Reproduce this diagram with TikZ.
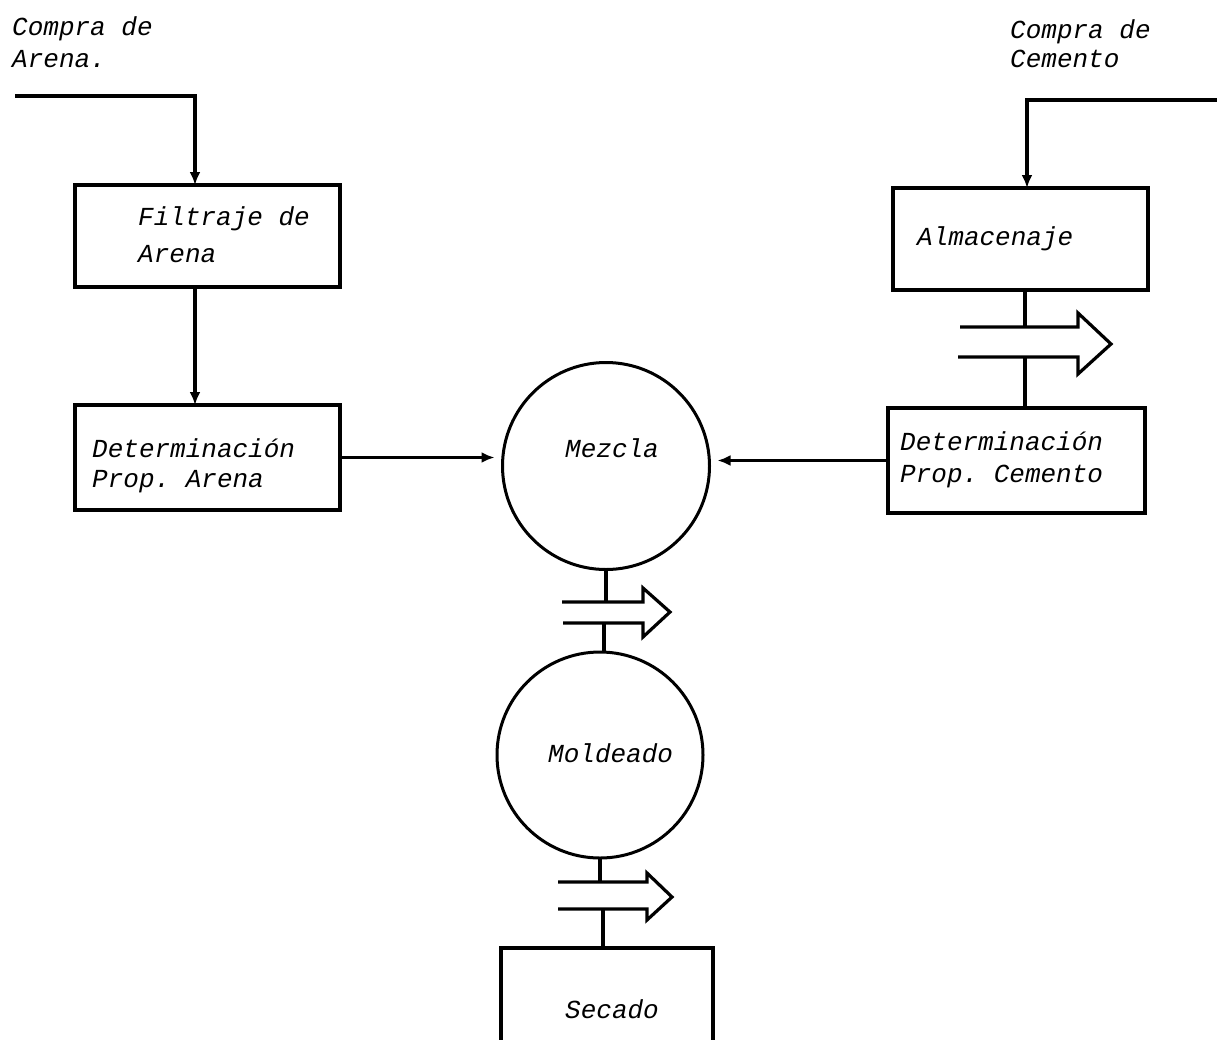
\documentclass[tikz,border=0pt]{standalone}
\usepackage{fontspec}
\setmonofont{Liberation Mono}
\usetikzlibrary{arrows.meta}
\begin{document}
\begin{tikzpicture}[x=1pt,y=-1pt,
  ln/.style={line width=3.2pt},
  box/.style={draw,line width=3.2pt,anchor=north west,inner sep=0pt,outer sep=0pt},
  circ/.style={draw,circle,line width=3pt,inner sep=0pt,outer sep=0pt},
  txt/.style={font=\ttfamily\itshape\fontsize{26}{30}\selectfont,anchor=base west,inner sep=0pt},
  tip/.style={-{Latex[length=13pt,width=11pt]}},
  dbl/.style={line width=3.2pt,line join=miter}]
\useasboundingbox (0,0) rectangle (1217,1039);
\clip (0,0) rectangle (1217,1039);
% texts
\node[txt] (cA1) at (12,35) {Compra de};
\node[txt] (cA2) at (12,67) {Arena.};
\node[txt] (cC1) at (1010,38) {Compra de};
\node[txt] (cC2) at (1010,67) {Cemento};
% boxes
\node[box,minimum width=265pt,minimum height=102pt] (filt) at (75,185) {};
\node[box,minimum width=265pt,minimum height=105pt] (detA) at (75,405) {};
\node[box,minimum width=255pt,minimum height=102pt] (alm) at (893,188) {};
\node[box,minimum width=257pt,minimum height=105pt] (detC) at (888,408) {};
\node[box,minimum width=212pt,minimum height=130pt] (sec) at (501,948) {};
% circles
\node[circ,minimum size=207pt] (mez) at (606,466) {};
\node[circ,minimum size=206pt] (mol) at (600,755) {};
% box texts
\node[txt] (f1) at (138,225) {Filtraje de};
\node[txt] (f2) at (138,262) {Arena};
\node[txt] (dA1) at (92,457) {Determinación};
\node[txt] (dA2) at (92,487) {Prop. Arena};
\node[txt] (al) at (917,245) {Almacenaje};
\node[txt] (dC1) at (900,450) {Determinación};
\node[txt] (dC2) at (900,482) {Prop. Cemento};
\node[txt] (mz) at (565,457) {Mezcla};
\node[txt] (md) at (548,762) {Moldeado};
\node[txt] (sc) at (565,1018) {Secado};
% input lines
\coordinate (inA) at (15,96);
\coordinate (cnA) at (195,96);
\draw[ln,tip] (inA) -- (cnA) -- (cnA |- filt.north);
\coordinate (inC) at (1217,100);
\coordinate (cnC) at (1027,100);
\draw[ln,tip] (inC) -- (cnC) -- (cnC |- alm.north);
% filtraje -> determinacion
\draw[ln,tip] (cnA |- filt.south) -- (cnA |- detA.north);
% to mezcla
\draw[ln,tip,shorten >=8pt] (detA.east) -- (detA.east -| mez.west);
\draw[ln,tip,shorten >=8pt] (detC.west) -- (detC.west -| mez.east);
% double arrow: almacenaje -> determinacion cemento
\coordinate (a1) at (1025,327);
\coordinate (a2) at (1025,357);
\draw[ln] (alm.south -| a1) -- (a1);
\draw[ln] (a2) -- (detC.north -| a2);
\draw[dbl] (960,327) -- (1078,327) -- (1078,313) -- (1111,344) -- (1078,374) -- (1078,357) -- (958,357);
% double arrow: mezcla -> moldeado
\coordinate (b1) at (605,602);
\coordinate (b2) at (604,623);
\draw[ln] (mez.south) -- (mez.south |- b1);
\draw[ln] (b2) -- (b2 |- mol.north);
\draw[dbl] (562,602) -- (643,602) -- (643,588) -- (670,612) -- (643,637) -- (643,623) -- (563,623);
% double arrow: moldeado -> secado
\coordinate (c1) at (603,882);
\coordinate (c2) at (603,909);
\draw[ln] (mol.south) -- (mol.south |- c1);
\draw[ln] (c2) -- (c2 |- sec.north);
\draw[dbl] (558,882) -- (647,882) -- (647,873) -- (672,897) -- (647,920) -- (647,909) -- (558,909);
\end{tikzpicture}
\end{document}
